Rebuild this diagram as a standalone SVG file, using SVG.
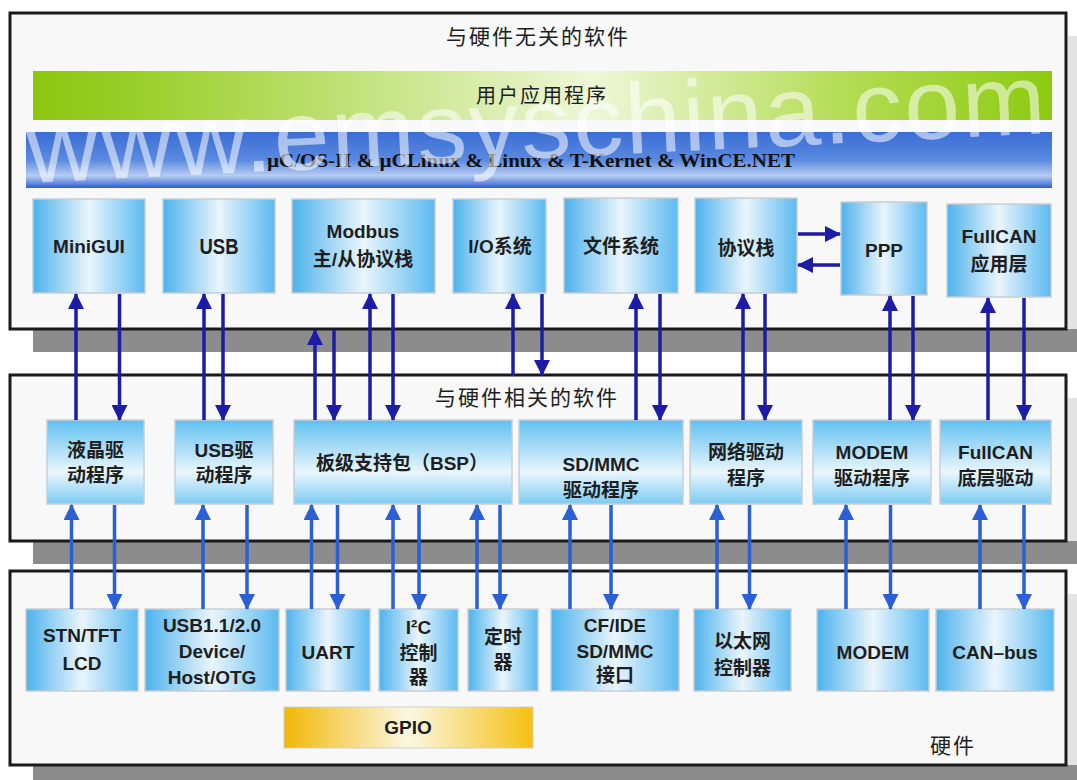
<svg xmlns="http://www.w3.org/2000/svg" width="1077" height="780" viewBox="0 0 1077 780">
<defs>
<style>
.bg{fill:#ffffff}
.box{fill:#f8f8f8;stroke:#1a1a1a;stroke-width:3}
.shadow{fill:#8c8c8c}
.rsh{fill:#e4e4e4}
.nh{fill:url(#gNodeH);stroke:#c6ced4;stroke-width:1.5}
.nv{fill:url(#gNodeV);stroke:#c6ced4;stroke-width:1.5}
.t{font-family:"Liberation Sans","Noto Sans CJK SC",sans-serif;font-size:19px;font-weight:bold;fill:#1e1e1e;text-anchor:middle;dominant-baseline:central}
.ttl{font-family:"Liberation Sans","Noto Sans CJK SC",sans-serif;font-size:21px;fill:#1e1e1e;letter-spacing:2px;text-anchor:middle;dominant-baseline:central}
.os{font-family:"Liberation Serif","Noto Sans CJK SC",serif;font-size:19px;font-weight:bold;fill:#111111;dominant-baseline:central}
.wm{font-family:"Liberation Sans",sans-serif;font-size:100px;fill:#ffffff;fill-opacity:0.55}
.a1{stroke:#1c1ca6;stroke-width:3.5;fill:none;marker-end:url(#m1)}
.a2{stroke:#2a5fd5;stroke-width:3.5;fill:none;marker-end:url(#m2)}
</style>
<linearGradient id="gNodeH" x1="0" y1="0" x2="1" y2="0">
<stop offset="0" stop-color="#4cb2ec"/><stop offset="0.5" stop-color="#eaf5fc"/><stop offset="1" stop-color="#5abaf0"/>
</linearGradient>
<linearGradient id="gNodeV" x1="0" y1="0" x2="0" y2="1">
<stop offset="0" stop-color="#5fc0f0"/><stop offset="0.62" stop-color="#eaf6fd"/><stop offset="1" stop-color="#7ccbf2"/>
</linearGradient>
<linearGradient id="gGreen" x1="0" y1="0" x2="1" y2="0">
<stop offset="0" stop-color="#8bc60e"/><stop offset="0.15" stop-color="#a3d33a"/><stop offset="0.55" stop-color="#eef7d8"/><stop offset="0.8" stop-color="#b3dc52"/><stop offset="1" stop-color="#8ccb10"/>
</linearGradient>
<linearGradient id="gBlue" x1="0" y1="0" x2="0" y2="1">
<stop offset="0" stop-color="#3b6dd6"/><stop offset="0.5" stop-color="#5a8ae0"/><stop offset="0.78" stop-color="#b6ccf2"/><stop offset="0.9" stop-color="#6b93e2"/><stop offset="1" stop-color="#2f5fd3"/>
</linearGradient>
<linearGradient id="gYellow" x1="0" y1="0" x2="1" y2="0">
<stop offset="0" stop-color="#f2b705"/><stop offset="0.5" stop-color="#fbf8e2"/><stop offset="1" stop-color="#f4c010"/>
</linearGradient>
<marker id="m1" viewBox="0 0 16 16" refX="15" refY="8" markerWidth="16" markerHeight="16" markerUnits="userSpaceOnUse" orient="auto"><path d="M0,0 L16,8 L0,16 Z" fill="#1c1ca6"/></marker>
<marker id="m2" viewBox="0 0 16 16" refX="15" refY="8" markerWidth="16" markerHeight="16" markerUnits="userSpaceOnUse" orient="auto"><path d="M0,0 L16,8 L0,16 Z" fill="#2a5fd5"/></marker>
</defs>
<rect class="bg" x="0" y="0" width="1077" height="780"/>

<!-- layers -->
<g id="layer-sw-independent">
<rect class="rsh" x="1068" y="36" width="9" height="316"/>
<rect class="shadow" x="33" y="329" width="1044" height="23"/>
<rect class="box" x="10" y="13" width="1056" height="316"/>
<text class="ttl" x="538" y="36">与硬件无关的软件</text>
</g>
<g id="app-layer">
<rect x="33" y="71" width="1019" height="49" fill="url(#gGreen)"/>
<text class="ttl" x="542" y="96" style="font-size:20px">用户应用程序</text>
</g>
<g id="os-layer">
<rect x="26" y="132" width="1026" height="56" fill="url(#gBlue)"/>
<text class="os" x="267" y="160" textLength="528" lengthAdjust="spacingAndGlyphs">µC/OS-II &amp; µCLinux &amp; Linux &amp; T-Kernet &amp; WinCE.NET</text>
</g>

<g id="layer-sw-dependent">
<rect class="rsh" x="1068" y="398" width="9" height="166"/>
<rect class="shadow" x="33" y="541" width="1044" height="23"/>
<rect class="box" x="10" y="375" width="1056" height="166"/>
<text class="ttl" x="527" y="397">与硬件相关的软件</text>
</g>

<g id="layer-hardware">
<rect class="rsh" x="1068" y="594" width="9" height="186"/>
<rect class="shadow" x="33" y="765" width="1044" height="15"/>
<rect class="box" x="10" y="571" width="1056" height="194"/>
<text class="ttl" x="953" y="745">硬件</text>
</g>

<!-- top row nodes -->
<g id="n-minigui"><rect class="nh" x="33" y="199" width="112" height="94"/><text class="t" x="89" y="246">MiniGUI</text></g>
<g id="n-usb"><rect class="nh" x="163" y="199" width="112" height="94"/><text class="t" x="219" y="246" style="font-size:22px" textLength="39" lengthAdjust="spacingAndGlyphs">USB</text></g>
<g id="n-modbus"><rect class="nh" x="292" y="199" width="143" height="94"/><text class="t" x="363" y="231">Modbus</text><text class="t" x="363" y="259">主/从协议栈</text></g>
<g id="n-io"><rect class="nh" x="453" y="199" width="93" height="94"/><text class="t" x="500" y="246">I/O系统</text></g>
<g id="n-fs"><rect class="nh" x="564" y="198" width="114" height="95"/><text class="t" x="621" y="246">文件系统</text></g>
<g id="n-stack"><rect class="nh" x="695" y="198" width="102" height="95"/><text class="t" x="746" y="248">协议栈</text></g>
<g id="n-ppp"><rect class="nh" x="841" y="202" width="86" height="93"/><text class="t" x="884" y="250">PPP</text></g>
<g id="n-fullcan-app"><rect class="nh" x="947" y="204" width="104" height="93"/><text class="t" x="999" y="236">FullCAN</text><text class="t" x="999" y="264">应用层</text></g>

<!-- middle row nodes -->
<g id="n-lcd-drv"><rect class="nv" x="47" y="420" width="97" height="84"/><text class="t" x="95.5" y="450">液晶驱</text><text class="t" x="95.5" y="475">动程序</text></g>
<g id="n-usb-drv"><rect class="nv" x="175" y="420" width="98" height="84"/><text class="t" x="224" y="450">USB驱</text><text class="t" x="224" y="475">动程序</text></g>
<g id="n-bsp"><rect class="nv" x="294" y="420" width="218" height="84"/><text class="t" x="402" y="463">板级支持包（BSP）</text></g>
<g id="n-sd-drv"><rect class="nv" x="519" y="420" width="164" height="84"/><text class="t" x="601" y="464">SD/MMC</text><text class="t" x="601" y="490">驱动程序</text></g>
<g id="n-net-drv"><rect class="nv" x="690" y="420" width="112" height="84"/><text class="t" x="746" y="452">网络驱动</text><text class="t" x="746" y="478">程序</text></g>
<g id="n-modem-drv"><rect class="nv" x="813" y="420" width="118" height="84"/><text class="t" x="872" y="452">MODEM</text><text class="t" x="872" y="478">驱动程序</text></g>
<g id="n-fullcan-drv"><rect class="nv" x="940" y="420" width="111" height="84"/><text class="t" x="995.5" y="452">FullCAN</text><text class="t" x="995.5" y="478">底层驱动</text></g>

<!-- bottom row nodes -->
<g id="n-lcd"><rect class="nh" x="26" y="609" width="112" height="82"/><text class="t" x="82" y="635">STN/TFT</text><text class="t" x="82" y="663">LCD</text></g>
<g id="n-usbhw"><rect class="nh" x="145" y="609" width="134" height="82"/><text class="t" x="212" y="625">USB1.1/2.0</text><text class="t" x="212" y="651">Device/</text><text class="t" x="212" y="677">Host/OTG</text></g>
<g id="n-uart"><rect class="nh" x="286" y="609" width="84" height="82"/><text class="t" x="328" y="652">UART</text></g>
<g id="n-i2c"><rect class="nh" x="379" y="609" width="79" height="82"/><text class="t" x="418.5" y="627">I²C</text><text class="t" x="418.5" y="653">控制</text><text class="t" x="418.5" y="677">器</text></g>
<g id="n-timer"><rect class="nh" x="468" y="609" width="70" height="82"/><text class="t" x="503" y="637">定时</text><text class="t" x="503" y="662">器</text></g>
<g id="n-cf"><rect class="nh" x="551" y="609" width="128" height="82"/><text class="t" x="615" y="625">CF/IDE</text><text class="t" x="615" y="651">SD/MMC</text><text class="t" x="615" y="675">接口</text></g>
<g id="n-eth"><rect class="nh" x="694" y="609" width="97" height="82"/><text class="t" x="742.5" y="641">以太网</text><text class="t" x="742.5" y="668">控制器</text></g>
<g id="n-modem"><rect class="nh" x="817" y="609" width="112" height="82"/><text class="t" x="873" y="652">MODEM</text></g>
<g id="n-canbus"><rect class="nh" x="936" y="609" width="118" height="82"/><text class="t" x="995" y="652">CAN–bus</text></g>
<g id="n-gpio"><rect x="284" y="707" width="249" height="41" fill="url(#gYellow)" stroke="#cfcfcf" stroke-width="1"/><text class="t" x="408" y="727">GPIO</text></g>

<!-- connectors -->
<g id="connectors">
<line class="a1" x1="76" y1="420" x2="76" y2="294"/>
<line class="a1" x1="119.5" y1="294" x2="119.5" y2="420"/>
<line class="a1" x1="204" y1="420" x2="204" y2="294"/>
<line class="a1" x1="223" y1="294" x2="223" y2="420"/>
<line class="a1" x1="315" y1="420" x2="315" y2="330"/>
<line class="a1" x1="334" y1="330" x2="334" y2="420"/>
<line class="a1" x1="370" y1="420" x2="370" y2="294"/>
<line class="a1" x1="393" y1="294" x2="393" y2="420"/>
<line class="a1" x1="513" y1="376" x2="513" y2="294"/>
<line class="a1" x1="542" y1="294" x2="542" y2="375"/>
<line class="a1" x1="636" y1="420" x2="636" y2="294"/>
<line class="a1" x1="660" y1="294" x2="660" y2="420"/>
<line class="a1" x1="743" y1="420" x2="743" y2="294"/>
<line class="a1" x1="765" y1="294" x2="765" y2="420"/>
<line class="a1" x1="890" y1="420" x2="890" y2="296"/>
<line class="a1" x1="913" y1="296" x2="913" y2="420"/>
<line class="a1" x1="988" y1="420" x2="988" y2="298"/>
<line class="a1" x1="1024" y1="298" x2="1024" y2="420"/>
<line class="a1" x1="798" y1="234" x2="840" y2="234"/>
<line class="a1" x1="840" y1="265" x2="798" y2="265"/>

<line class="a2" x1="71.5" y1="609" x2="71.5" y2="505"/>
<line class="a2" x1="114.5" y1="505" x2="114.5" y2="609"/>
<line class="a2" x1="203" y1="609" x2="203" y2="505"/>
<line class="a2" x1="247" y1="505" x2="247" y2="609"/>
<line class="a2" x1="311.5" y1="609" x2="311.5" y2="505"/>
<line class="a2" x1="337.5" y1="505" x2="337.5" y2="609"/>
<line class="a2" x1="393" y1="609" x2="393" y2="505"/>
<line class="a2" x1="419" y1="505" x2="419" y2="609"/>
<line class="a2" x1="477" y1="609" x2="477" y2="505"/>
<line class="a2" x1="500" y1="505" x2="500" y2="609"/>
<line class="a2" x1="570" y1="609" x2="570" y2="505"/>
<line class="a2" x1="611" y1="505" x2="611" y2="609"/>
<line class="a2" x1="717" y1="609" x2="717" y2="505"/>
<line class="a2" x1="749.5" y1="505" x2="749.5" y2="609"/>
<line class="a2" x1="846" y1="609" x2="846" y2="505"/>
<line class="a2" x1="890.5" y1="505" x2="890.5" y2="609"/>
<line class="a2" x1="980" y1="609" x2="980" y2="505"/>
<line class="a2" x1="1024" y1="505" x2="1024" y2="609"/>
</g>

<text class="wm" x="28" y="183" textLength="1020" transform="rotate(-2.8 28 183)">www.emsyschina.com</text>
</svg>
